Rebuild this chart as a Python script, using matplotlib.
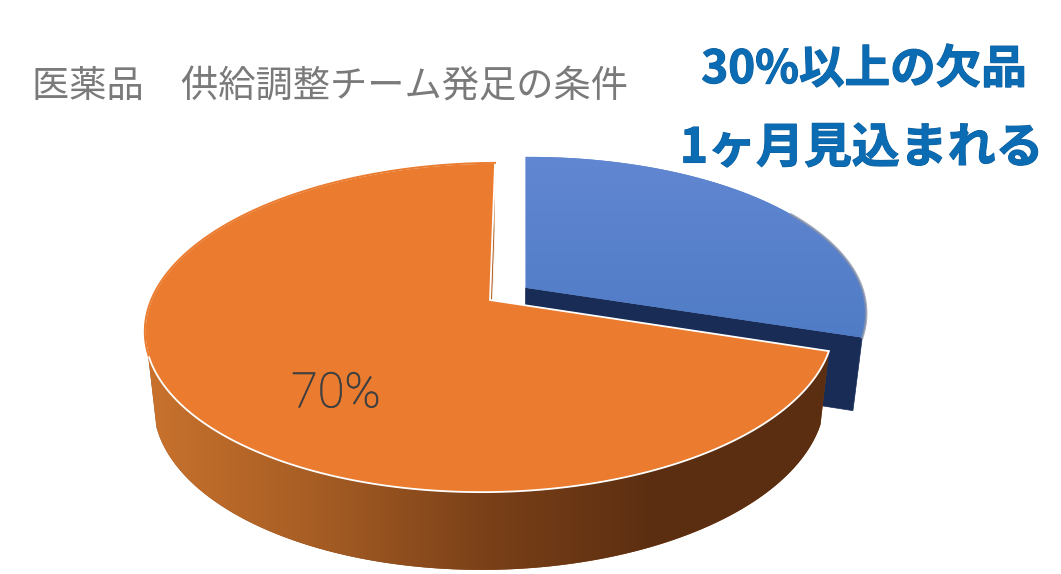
import numpy as np
import matplotlib
matplotlib.use('Agg')
import matplotlib.pyplot as plt
import matplotlib.patheffects as pe
from matplotlib.colors import LinearSegmentedColormap
from matplotlib.patches import Polygon

plt.rcParams['font.family'] = ['Noto Sans CJK JP', 'DejaVu Sans']

# data
shares = [30, 70]
pie_labels = ['', '70%']
title_text = '医薬品\u3000供給調整チーム発足の条件'
note_lines = ['30%以上の欠品', '1ヶ月見込まれる']

W, H = 1061, 574
CX, CY, A, B, P = 490.0, 300.0, 339.0, 160.0, 0.167
START, EXPLODE = 1.0, 0.13


def project(ang, r=1.0, off=(0.0, 0.0), low=False):
    ang = np.radians(np.asarray(ang, dtype=float))
    X = r * np.sin(ang) + off[0]
    Y = -r * np.cos(ang) + off[1]
    w = 1 - P * Y
    x = CX + A * X / w * np.where(X < 0, 1.004, 1.0)
    y = CY + B * Y / w - 4 * X / w
    if low:
        y = y + 72 + 0.03 * (y - CY)
        x = CX + (x - CX) * 0.975
    return np.column_stack([x, y])


def squash_back(pts, apex_y, k=0.977):
    pts = pts.copy()
    above = pts[:, 1] < apex_y
    pts[above, 1] = apex_y + (pts[above, 1] - apex_y) * k
    return pts


sweep = np.array(shares) / sum(shares) * 360
blue_a = np.linspace(START, START + sweep[0], 160)
orange_a = np.linspace(START + sweep[0], START + 360, 360)
mid = np.radians(START + sweep[0] / 2)
off = (EXPLODE * np.sin(mid), -EXPLODE * np.cos(mid))

fig = plt.figure(figsize=(W / 100, H / 100), dpi=100)
ax = fig.add_axes([0, 0, 1, 1])
ax.axis('off')

# blue slice: cut face
e = blue_a[-1]
face = np.vstack([project(0, 0, off), project(e, 1, off), project(e, 1, off, True), project(0, 0, off, True)])
ax.add_patch(Polygon(face, closed=True, fc='#182c56', ec='#182c56', lw=0.5, zorder=1))

# blue slice: top with gradient
apex_y = project(0, 0, off)[0, 1]
rim_all = squash_back(project(blue_a, 1, off), apex_y)
top_blue = np.vstack([project(0, 0, off), rim_all])
clip = Polygon(top_blue, closed=True, fc='#5a80cb', ec='none', zorder=2)
ax.add_patch(clip)
cmap_b = LinearSegmentedColormap.from_list('b', ['#6287d2', '#4f7bc5'])
im = ax.imshow(np.linspace(0, 1, 128).reshape(-1, 1), cmap=cmap_b, aspect='auto',
               extent=(500, 880, 345, 150), zorder=2.1)
im.set_clip_path(clip)
rim = rim_all[blue_a > 60]
ax.plot(rim[:, 0], rim[:, 1], color='#8a93a8', lw=1.8, alpha=0.75, zorder=2.2)

# orange slice: cut face near 12 o'clock
s = orange_a[-1]
face2 = np.vstack([project(0, 0), project(s, 1), project(s, 1, low=True), project(0, 0, low=True)])
ax.add_patch(Polygon(face2, closed=True, fc='#b5652a', ec='#ffffff', lw=0.6, zorder=3))

# orange slice: rim with horizontal gradient
side_a = orange_a[orange_a < 253]
up, dn = project(side_a), project(side_a, low=True)
side = Polygon(np.vstack([up, dn[::-1]]), closed=True, fc='#8a4a1c', ec='none', zorder=3.4)
ax.add_patch(side)
cmap_o = LinearSegmentedColormap.from_list('o', ['#c9722d', '#a65d24', '#7a4018', '#5b2e11', '#5b2e11'])
im2 = ax.imshow(np.linspace(0, 1, 256).reshape(1, -1), cmap=cmap_o, aspect='auto',
                extent=(145, 830, 580, 300), zorder=3.5)
im2.set_clip_path(side)

# orange slice: top
top_orange = np.vstack([project(0, 0), project(orange_a)])
ax.add_patch(Polygon(top_orange, closed=True, fc='#ea7b2f', ec='#ffffff', lw=1.3, zorder=4, joinstyle='miter'))
# no white line along the back of the rim
back = project(orange_a[orange_a > 252])
ax.plot(back[:, 0], back[:, 1], color='#ea7b2f', lw=1.4, zorder=4.1)

ax.set_xlim(0, W)
ax.set_ylim(H, 0)

ax.text(336, 394, pie_labels[1], ha='center', va='center', fontsize=35, color='#404040',
        family=['Roboto', 'DejaVu Sans'], fontweight='light', zorder=6,
        path_effects=[pe.withStroke(linewidth=0.5, foreground='#404040')])
ax.text(330, 87, title_text, ha='center', va='center', fontsize=26.8, color='#7a7a7a', zorder=6)
stroke = [pe.withStroke(linewidth=0.8, foreground='#0a5c9a')]
ax.text(864, 70, note_lines[0], ha='center', va='center', fontsize=32.8, color='#0b6cb4',
        fontweight='bold', zorder=6, path_effects=stroke)
ax.text(861.5, 148, note_lines[1], ha='center', va='center', fontsize=34.5, color='#0b6cb4',
        fontweight='bold', zorder=6, path_effects=stroke)

fig.savefig('out.png', dpi=100, facecolor='white')
